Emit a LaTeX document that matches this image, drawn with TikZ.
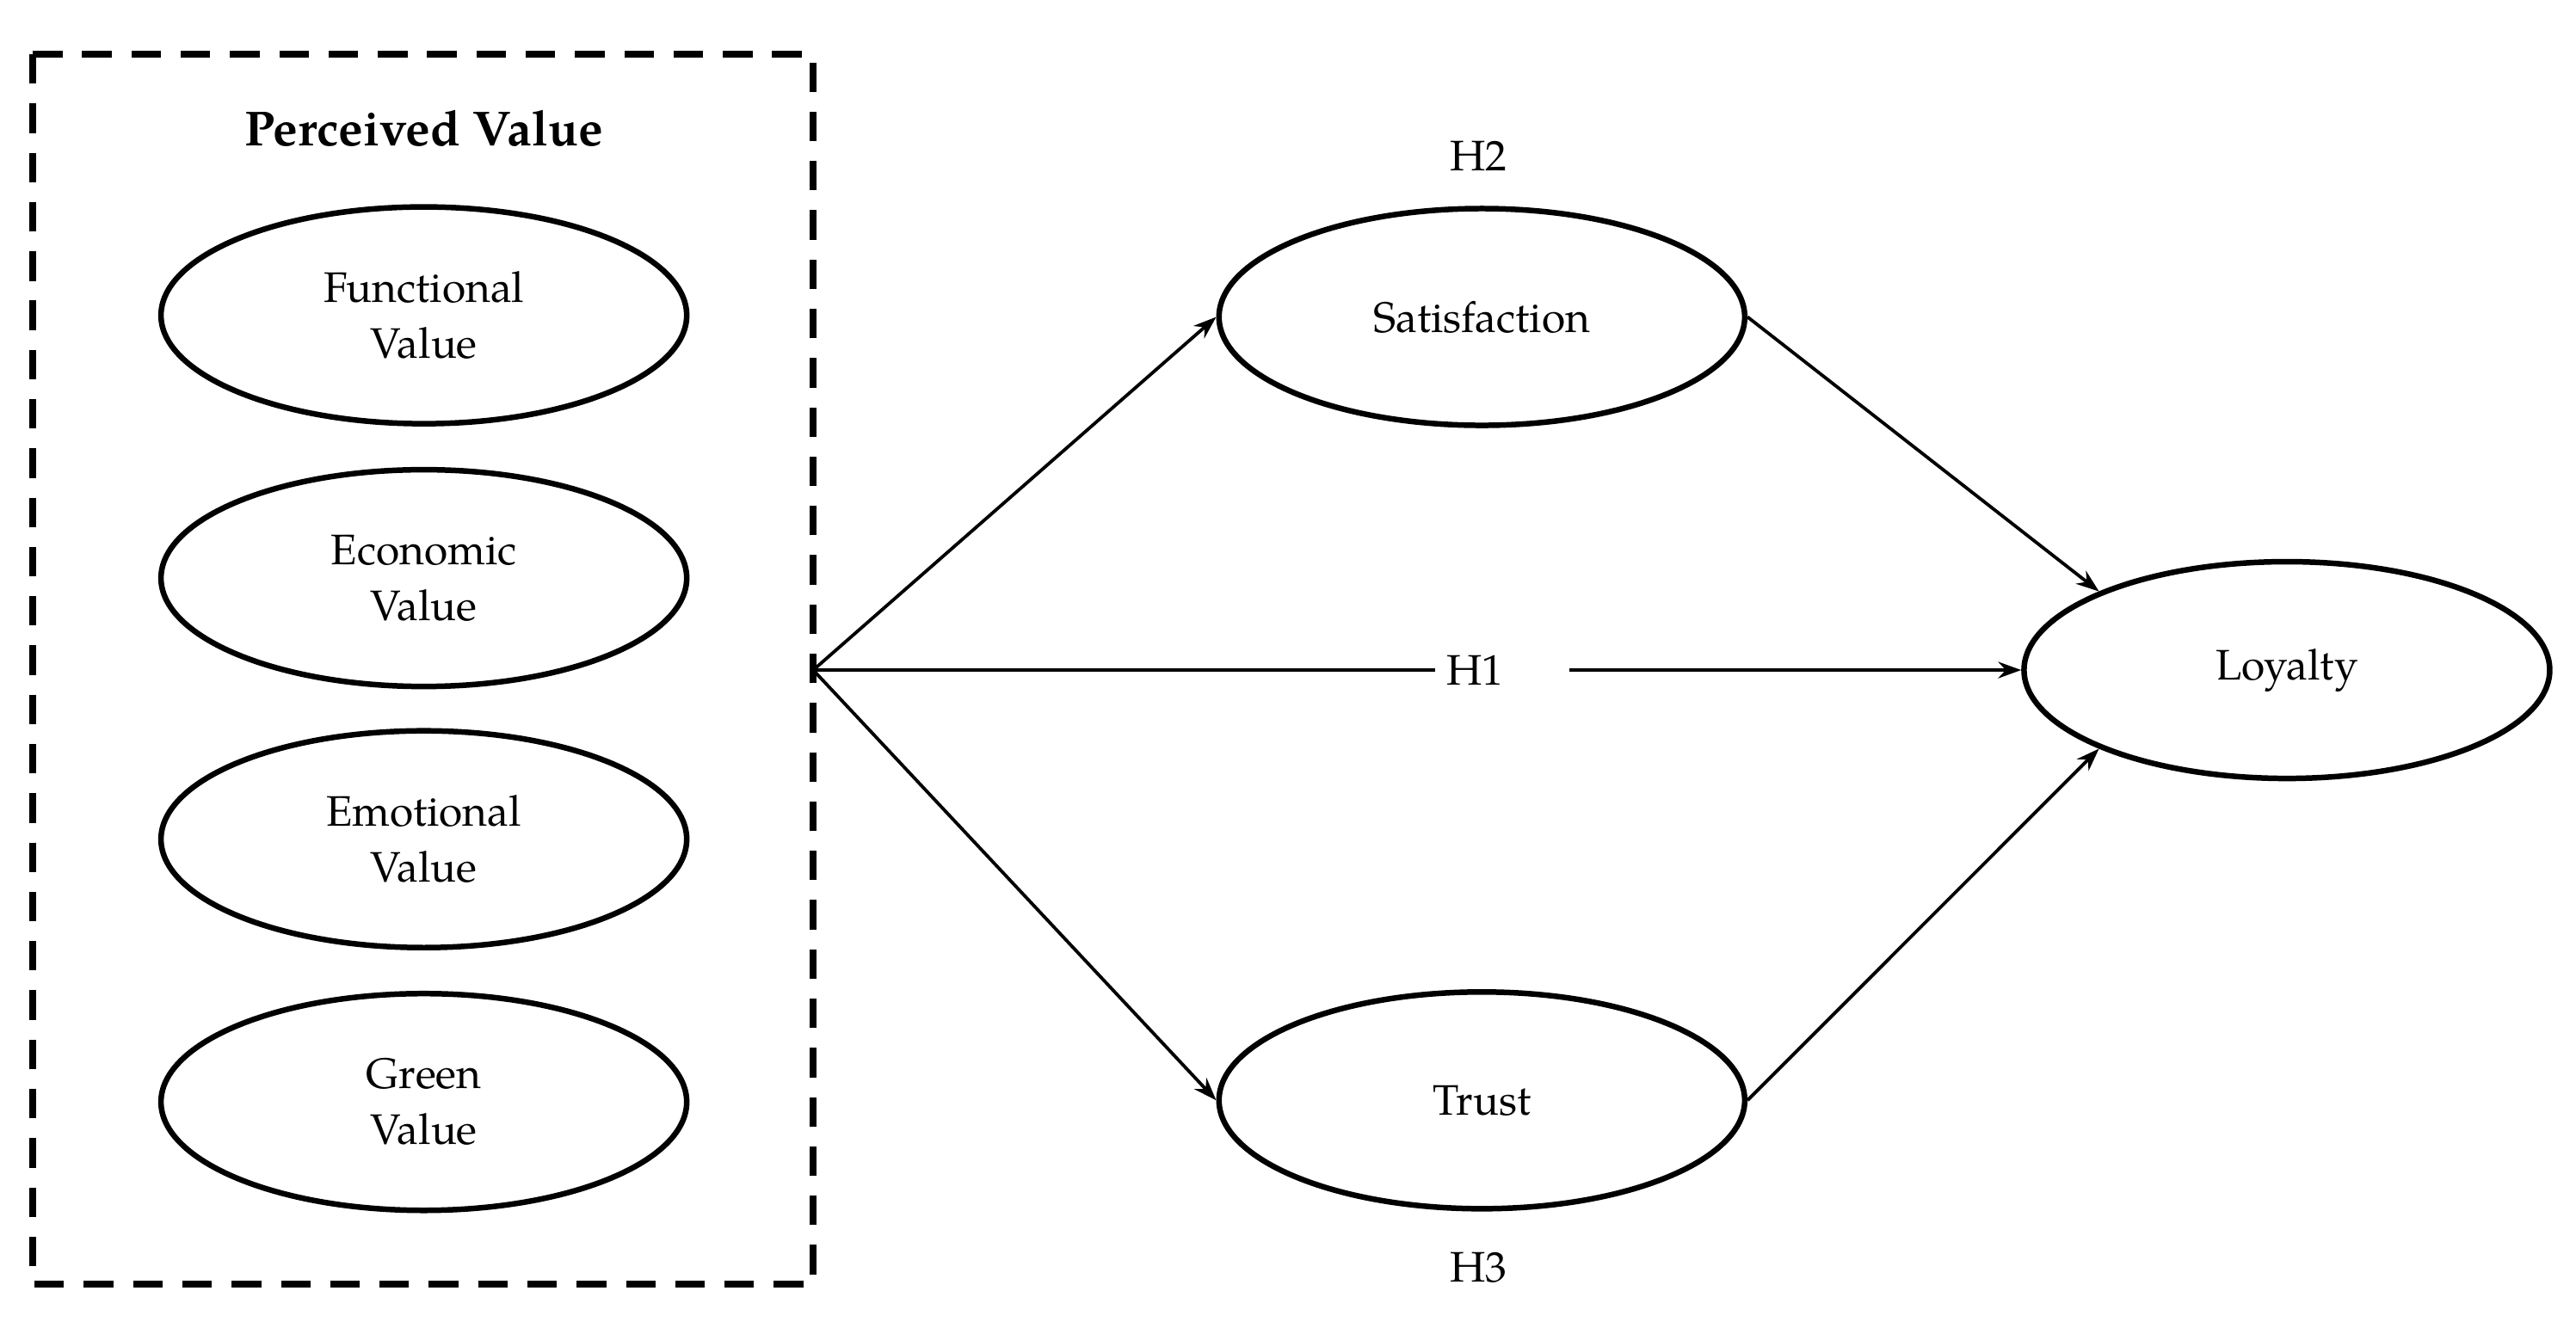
\documentclass[tikz,border=0pt]{standalone}
\usepackage{fontspec}
\setmainfont{TeX Gyre Pagella}
\usetikzlibrary{shapes.geometric,arrows.meta}
\begin{document}
\begin{tikzpicture}[x=0.5pt,y=-0.5pt,
 ell/.style={ellipse,draw,line width=1.7pt,minimum width=160pt,minimum height=66pt,align=center,font=\fontsize{13}{17}\selectfont,inner sep=0pt},
 con/.style={line width=1pt,-{Stealth[length=7pt,width=5pt]}},
 lab/.style={font=\fontsize{13}{15}\selectfont}]
\useasboundingbox (0,0) rectangle (1568,812);
\draw[line width=2pt,dash pattern=on 9pt off 6pt] (20,33) rectangle (495,782);
\node[font=\bfseries\fontsize{15}{18}\selectfont] (pv) at (258,78) {Perceived Value};
\node[ell] (f) at (258,192) {Functional\\Value};
\node[ell] (ec) at (258,352) {Economic\\Value};
\node[ell] (em) at (258,511) {Emotional\\Value};
\node[ell] (g) at (258,671) {Green\\Value};
\node[ell] (s) at (902,193) {Satisfaction};
\node[ell] (t) at (902,670) {Trust};
\node[ell] (l) at (1392,408) {Loyalty};
\coordinate (src) at (495,408);
\node[lab] (h1) at (898,408) {H1};
\node[lab] (h2) at (900,95) {H2};
\node[lab] (h3) at (900,772) {H3};
\draw[con] (src) -- (s.west);
\draw[con] (src) -- (t.west);
\draw[line width=1pt] (src) -- (h1.west|-src) ++(-18,0);
\draw[line width=1pt] (src) -- (850,408);
\draw[con] (955,408) -- (l.west);
\draw[con] (s.east) -- (l.north west);
\draw[con] (t.east) -- (l.south west);
\end{tikzpicture}
\end{document}
